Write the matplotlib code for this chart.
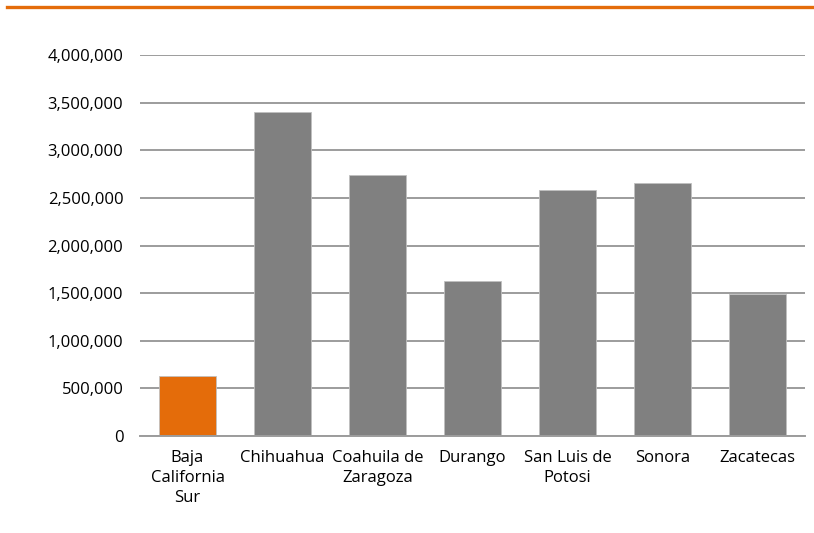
import matplotlib
matplotlib.use("Agg")
import matplotlib.pyplot as plt
from matplotlib.lines import Line2D
from matplotlib.ticker import FuncFormatter

states = ["Baja\nCalifornia\nSur", "Chihuahua", "Coahuila de\nZaragoza", "Durango",
          "San Luis de\nPotosi", "Sonora", "Zacatecas"]
values = [630000, 3401000, 2740000, 1625000, 2585000, 2653000, 1488000]
highlight = 0

ORANGE = "#E46C0A"
GRAY = "#808080"
GRID = "#9c9c9c"

plt.rcParams["font.family"] = ["Open Sans", "DejaVu Sans"]

fig = plt.figure(figsize=(8.14, 5.33), dpi=100)
ax = fig.add_axes([140 / 814, 97 / 533, 665 / 814, 381 / 533])

colors = [ORANGE if i == highlight else GRAY for i in range(len(values))]
ax.bar(range(len(values)), values, width=0.6, color=colors,
       edgecolor="#c0c0c0", linewidth=0.6, zorder=3)

ax.set_xlim(-0.5, len(values) - 0.5)
ax.set_ylim(0, 4000000)
ax.set_yticks(range(0, 4000001, 500000))
ax.yaxis.set_major_formatter(FuncFormatter(lambda v, p: f"{int(v):,}"))
ax.set_xticks(range(len(values)))
ax.set_xticklabels(states, linespacing=1.35)

ax.grid(axis="y", color=GRID, linewidth=1.4, zorder=0)
for s in ["top", "right", "left"]:
    ax.spines[s].set_visible(False)
ax.spines["bottom"].set_color(GRID)
ax.spines["bottom"].set_linewidth(1.4)
ax.spines["bottom"].set_zorder(4)
ax.tick_params(axis="y", length=0, labelsize=12, colors="black", pad=12)
ax.tick_params(axis="x", length=0, labelsize=12, colors="black", pad=10)

fig.add_artist(Line2D([7 / 814, 1.0], [526 / 533, 526 / 533],
                      color=ORANGE, linewidth=2.4, transform=fig.transFigure))

fig.savefig("out.png", dpi=100)
